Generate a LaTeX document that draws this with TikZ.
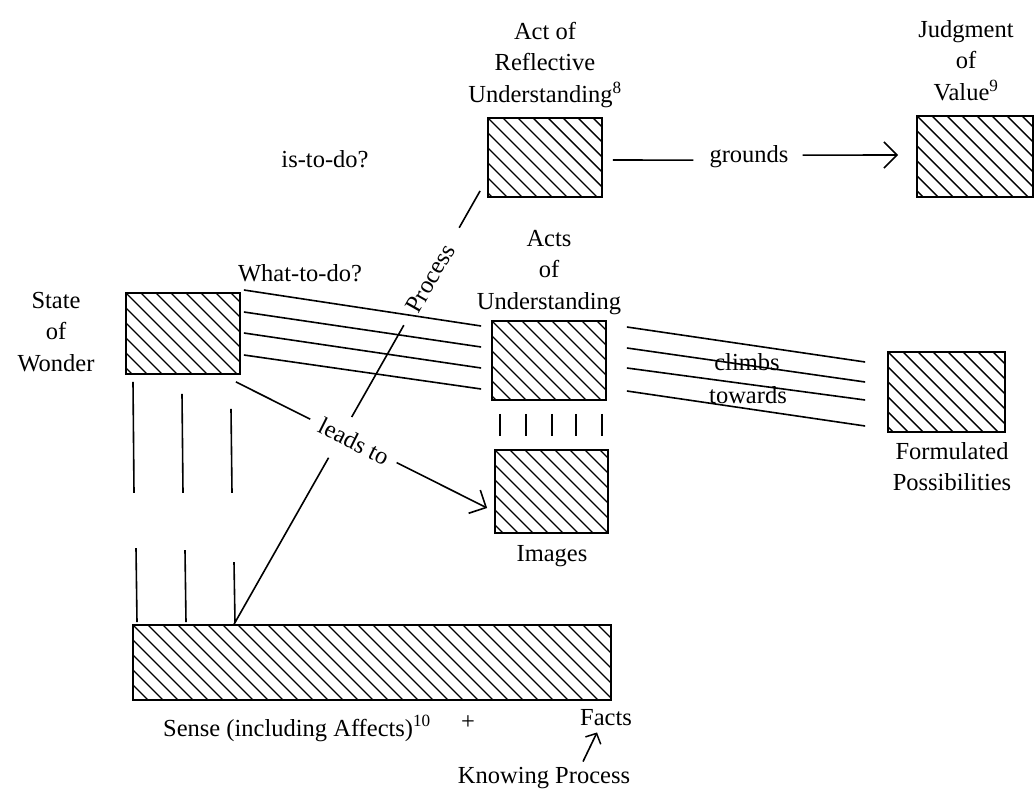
\documentclass[tikz,border=0pt]{standalone}
\usepackage{fontspec}
\setmainfont{Liberation Serif}
\usetikzlibrary{arrows.meta,calc}
\begin{document}
\begin{tikzpicture}[x=1pt,y=-1pt,
  every node/.style={font=\fontsize{24.5}{31.5}\selectfont, inner sep=0pt},
  hatchbox/.style={draw, line width=1.8pt, path picture={
    \foreach \k in {-8,...,34}
      \draw[line width=1.4pt] ([xshift=\k*15pt]path picture bounding box.north west) -- ++(110pt,-110pt);
  }},
  conn/.style={line width=1.6pt},
  barb/.style={-{Straight Barb[length=13pt,width=26pt,line width=1.6pt]}},
  smallbarb/.style={-{Straight Barb[length=8pt,width=17pt,line width=1.5pt]}},
  lab/.style={align=center, anchor=north}
]
% page
\fill[white] (0,0) rectangle (1036,791);

% hatched boxes
\node[hatchbox, minimum width=114pt, minimum height=79pt] (aru) at (545,157.5) {};
\node[hatchbox, minimum width=116pt, minimum height=81pt] (jv) at (975,156.5) {};
\node[hatchbox, minimum width=114pt, minimum height=81pt] (sw) at (183,333.5) {};
\node[hatchbox, minimum width=114pt, minimum height=79pt] (au) at (549,360.5) {};
\node[hatchbox, minimum width=117pt, minimum height=80pt] (fp) at (946.5,392) {};
\node[hatchbox, minimum width=113pt, minimum height=83pt] (im) at (551.5,491.5) {};
\node[hatchbox, minimum width=478pt, minimum height=75pt] (sense) at (372,662.5) {};

% labels
\node[lab] (aru-t) at (545,22) {Act of\\Reflective\\Understanding\textsuperscript{8}};
\node[lab] (jv-t) at (966,20) {Judgment\\of\\Value\textsuperscript{9}};
\node[lab] (sw-t) at (56,292) {State\\of\\Wonder};
\node[lab] (au-t) at (549,230) {Acts\\of\\Understanding};
\node[lab] (fp-t) at (952,442) {Formulated\\Possibilities};
\node[anchor=base] (im-t) at (552,561) {Images};
\node[anchor=base west] (sense-t) at (163,736) {Sense (including Affects)\textsuperscript{10}};
\node[anchor=base] (plus) at (468,729) {+};
\node[anchor=base] (facts) at (606,725) {Facts};
\node[anchor=base] (know) at (544,783) {Knowing Process};
\node[anchor=base] (istodo) at (325,168) {is-to-do?};
\node[anchor=base] (whattodo) at (300,282) {What-to-do?};

% grounds
\node[anchor=base] (grounds) at (749,163) {grounds};
\draw[conn] ($(aru.east)+(10,2.5)$) -- ($(grounds.west)+(-16,3)$);
\draw[conn, barb] ($(grounds.east)+(14,-2)$) -- ($(jv.west)+(-18,-1.5)$);

% process line, broken around its label
\coordinate (p0) at ($(sense.north west)+(102,0)$);
\coordinate (p1) at ($(aru.south west)+(-7,-7)$);
\draw[conn] (p0) -- ($(p0)!0.384!(p1)$);
\draw[conn] ($(p0)!0.478!(p1)$) -- ($(p0)!0.690!(p1)$);
\draw[conn] ($(p0)!0.915!(p1)$) -- (p1);
\path (p0) -- (p1) node[pos=0.798, sloped] (proc) {Process};

% leads to
\coordinate (l0) at ($(sw.south east)+(-5,7)$);
\coordinate (l1) at ($(im.west)+(-7,16.5)$);
\draw[conn] (l0) -- ($(l0)!0.296!(l1)$);
\draw[conn, barb] ($(l0)!0.640!(l1)$) -- (l1);
\path (l0) -- (l1) node[pos=0.47, sloped] (leads) {leads to};

% wonder to understanding
\foreach \a/\b in {-43.5/-34.5, -21.5/-13.5, -0.5/7.5, 21.5/28.5}
  \draw[conn] ($(sw.east)+(3,\a)$) -- ($(au.west)+(-10,\b)$);

% understanding to formulated possibilities
\foreach \a/\b in {-33.5/-30, -12.5/-10, 7.5/8, 30.5/34}
  \draw[conn] ($(au.east)+(20,\a)$) -- ($(fp.west)+(-22,\b)$);
\node[anchor=base] (climbs) at (747,371) {climbs};
\node[anchor=base] (towards) at (748,403) {towards};

% understanding to images
\foreach \x in {-49,-23,3,27,53}
  \draw[conn] ($(au.south)+(\x,13)$) -- ($(im.north)+(\x-2.5,-13)$);

% wonder down to sense
\foreach \x/\s in {-50/7, -1/19, 48/34}
  \draw[conn] ($(sw.south)+(\x,\s)$) -- ($(sw.south)+(\x+1,118)$);
\foreach \u/\v in {-236/-76, -187/-74, -138/-62}
  \draw[conn] ($(sense.north)+(\u,\v)$) -- ($(sense.north)+(\u+1,-2)$);

% knowing process to facts
\draw[conn, smallbarb] ($(know.north)+(39,-5)$) -- ($(facts.south)+(-9,7)$);
\end{tikzpicture}
\end{document}
